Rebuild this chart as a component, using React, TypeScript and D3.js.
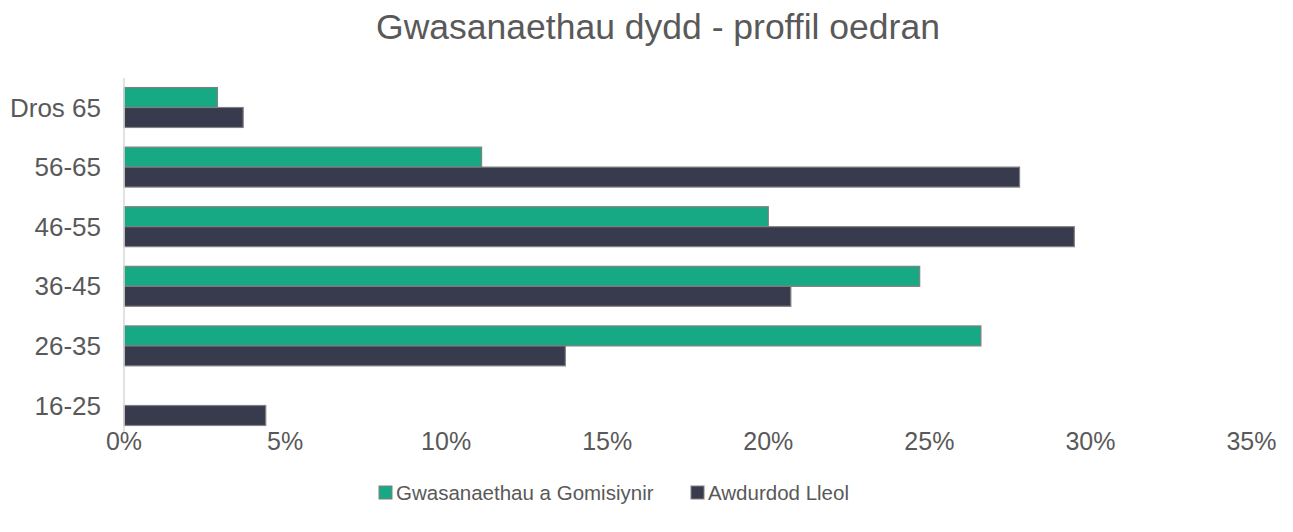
import React, { useEffect, useRef } from "react";
import * as d3 from "d3";

const categories = ["Dros 65", "56-65", "46-55", "36-45", "26-35", "16-25"];
const seriesNames = ["Gwasanaethau a Gomisiynir", "Awdurdod Lleol"];
const commissioned = [2.9, 11.1, 20.0, 24.7, 26.6, 0];
const localAuthority = [3.7, 27.8, 29.5, 20.7, 13.7, 4.4];
const xTicks = [0, 5, 10, 15, 20, 25, 30, 35];
const colors = ["#17a884", "#383a4e"];

const W = 1293;
const H = 532;
const FONT = "'Liberation Sans', Arial, sans-serif";

const App = () => {
  const ref = useRef<SVGSVGElement>(null);

  useEffect(() => {
    const svg = d3.select(ref.current);
    svg.selectAll("*").remove();

    const x = d3.scaleLinear().domain([0, 35]).range([124, 1251.5]);
    const y = d3
      .scaleBand()
      .domain(categories)
      .range([77.7, 435.3])
      .paddingInner(0.33)
      .paddingOuter(0.165);
    const ySub = d3
      .scaleBand()
      .domain(seriesNames)
      .range([0, y.bandwidth()]);

    // title
    svg
      .append("text")
      .attr("x", 658)
      .attr("y", 39)
      .attr("text-anchor", "middle")
      .style("font-family", FONT)
      .style("font-size", "35.5px")
      .style("fill", "#595959")
      .text("Gwasanaethau dydd - proffil oedran");

    // bars
    const rows = categories.map((c, i) => ({
      cat: c,
      vals: [commissioned[i], localAuthority[i]],
    }));

    const g = svg.append("g");
    rows.forEach((r) => {
      r.vals.forEach((v, j) => {
        if (!v) return;
        g.append("rect")
          .attr("x", x(0))
          .attr("y", (y(r.cat) as number) + (ySub(seriesNames[j]) as number))
          .attr("width", x(v) - x(0))
          .attr("height", ySub.bandwidth())
          .attr("fill", colors[j])
          .attr("stroke", "#808080")
          .attr("stroke-width", 1.2);
      });
    });

    // vertical axis line
    svg
      .append("line")
      .attr("x1", x(0))
      .attr("x2", x(0))
      .attr("y1", 78)
      .attr("y2", 433)
      .attr("stroke", "#d9d9d9")
      .attr("stroke-width", 1.5);

    // category labels
    svg
      .append("g")
      .selectAll("text")
      .data(categories)
      .join("text")
      .attr("x", 101)
      .attr("y", (d) => (y(d) as number) + y.bandwidth() / 2)
      .attr("dy", "0.35em")
      .attr("text-anchor", "end")
      .style("font-family", FONT)
      .style("font-size", "26px")
      .style("fill", "#595959")
      .text((d) => d);

    // x tick labels
    svg
      .append("g")
      .selectAll("text")
      .data(xTicks)
      .join("text")
      .attr("x", (d) => x(d))
      .attr("y", 450)
      .attr("text-anchor", "middle")
      .style("font-family", FONT)
      .style("font-size", "25px")
      .style("fill", "#595959")
      .text((d) => d + "%");

    // legend
    const legendX = [379, 691];
    seriesNames.forEach((name, i) => {
      const lg = svg
        .append("g")
        .attr("transform", `translate(${legendX[i]}, 486)`);
      lg.append("rect")
        .attr("width", 13)
        .attr("height", 13)
        .attr("fill", colors[i])
        .attr("stroke", "#808080")
        .attr("stroke-width", 1);
      lg.append("text")
        .attr("x", 17)
        .attr("y", 14)
        .style("font-family", FONT)
        .style("font-size", "20.5px")
        .style("fill", "#595959")
        .text(name);
    });
  }, []);

  return (
    <svg
      ref={ref}
      width={W}
      height={H}
      style={{ position: "absolute", left: 0, top: 0, background: "#fff" }}
    />
  );
};

export default App;
